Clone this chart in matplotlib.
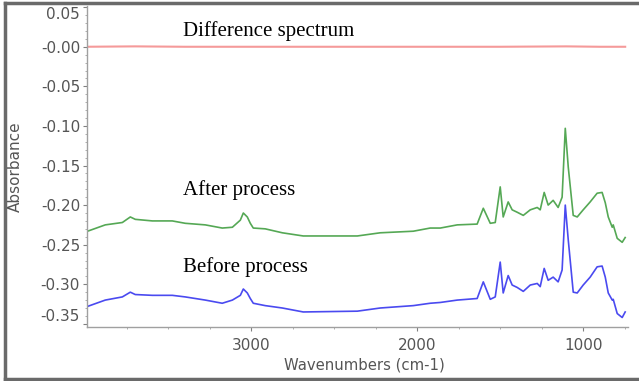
import matplotlib
matplotlib.use("Agg")
import matplotlib.pyplot as plt
from matplotlib.ticker import FixedLocator, MultipleLocator
from matplotlib.lines import Line2D

# Wavenumbers (cm-1)
wavenumbers = [4000, 3880, 3777, 3729, 3699, 3596, 3476, 3398, 3277, 3175, 3114,
               3066, 3048, 3024, 3006, 2988, 2916, 2813, 2687, 2361, 2223, 2024,
               1922, 1861, 1759, 1639, 1602, 1560, 1530, 1500, 1482, 1452, 1428,
               1398, 1361, 1319, 1277, 1259, 1235, 1211, 1181, 1151, 1127, 1108,
               1090, 1060, 1036, 1000, 958, 916, 886, 867, 849, 825, 819, 795,
               765, 747]

after_process = [-0.234, -0.225, -0.222, -0.215, -0.218, -0.220, -0.220, -0.223,
                 -0.225, -0.229, -0.228, -0.219, -0.210, -0.215, -0.223, -0.229,
                 -0.230, -0.235, -0.239, -0.239, -0.235, -0.233, -0.229, -0.229,
                 -0.225, -0.224, -0.204, -0.223, -0.222, -0.177, -0.215, -0.196,
                 -0.206, -0.209, -0.213, -0.206, -0.203, -0.206, -0.184, -0.200,
                 -0.194, -0.203, -0.190, -0.103, -0.152, -0.213, -0.215, -0.206,
                 -0.196, -0.185, -0.184, -0.197, -0.215, -0.228, -0.225, -0.242,
                 -0.247, -0.241]

before_process = [-0.329, -0.320, -0.316, -0.310, -0.313, -0.314, -0.314, -0.316,
                  -0.320, -0.324, -0.320, -0.314, -0.306, -0.311, -0.318, -0.324,
                  -0.327, -0.330, -0.335, -0.334, -0.330, -0.327, -0.324, -0.323,
                  -0.320, -0.318, -0.297, -0.319, -0.316, -0.272, -0.311, -0.289,
                  -0.301, -0.304, -0.309, -0.301, -0.299, -0.303, -0.280, -0.295,
                  -0.291, -0.297, -0.282, -0.200, -0.244, -0.310, -0.311, -0.301,
                  -0.291, -0.278, -0.277, -0.291, -0.311, -0.320, -0.319, -0.337,
                  -0.342, -0.335]

diff_wavenumbers = [4000, 3700, 3400, 3000, 2500, 2000, 1500, 1100, 900, 747]
difference = [0.000, 0.0005, 0.000, 0.000, 0.000, 0.000, 0.000, 0.0005, 0.000, 0.000]

y_ticks = [0.05, 0.0, -0.05, -0.10, -0.15, -0.20, -0.25, -0.30, -0.35]
y_tick_labels = ["0.05", "-0.00", "-0.05", "-0.10", "-0.15", "-0.20", "-0.25", "-0.30", "-0.35"]
x_ticks = [3000, 2000, 1000]
x_tick_labels = ["3000", "2000", "1000"]

W, H = 639, 381
fig = plt.figure(figsize=(W / 100, H / 100), dpi=100)
fig.patch.set_facecolor("white")
ax = fig.add_axes([87 / W, 1 - 327 / H, (628 - 87) / W, (327 - 6) / H])

ax.plot(diff_wavenumbers, difference, color="#f59a9a", lw=1.5)
ax.plot(wavenumbers, after_process, color="#55a855", lw=1.2)
ax.plot(wavenumbers, before_process, color="#4a4af0", lw=1.2)

ax.set_xlim(3990, 730)
ax.set_ylim(-0.354, 0.0515)

for s in ["top", "right"]:
    ax.spines[s].set_visible(False)
for s in ["left", "bottom"]:
    ax.spines[s].set_color("#a0a0a0")
    ax.spines[s].set_linewidth(1.0)

ax.yaxis.set_major_locator(FixedLocator(y_ticks))
ax.set_yticklabels(y_tick_labels)
ax.xaxis.set_major_locator(FixedLocator(x_ticks))
ax.set_xticklabels(x_tick_labels)
ax.yaxis.set_minor_locator(MultipleLocator(0.01))
ax.xaxis.set_minor_locator(MultipleLocator(250))

ax.tick_params(axis="both", which="major", direction="out", length=3,
               color="#808080", labelcolor="#555555", labelsize=11)
ax.tick_params(axis="both", which="minor", direction="out", length=1.5,
               color="#a0a0a0")
ax.tick_params(axis="y", pad=2)
ax.tick_params(axis="x", pad=5)

ticks = ax.yaxis.get_major_ticks()
ticks[0].label1.set_verticalalignment("top")
ticks[-1].label1.set_verticalalignment("bottom")

for lab in ax.get_xticklabels() + ax.get_yticklabels():
    lab.set_fontfamily("DejaVu Sans")

fig.text(364 / W, 1 - 365 / H, "Wavenumbers (cm-1)", ha="center", va="center",
         fontsize=10.7, color="#555555", family="DejaVu Sans")
fig.text(15 / W, 1 - 167 / H, "Absorbance", ha="center", va="center",
         rotation=90, fontsize=11, color="#555555", family="DejaVu Sans")

serif = ["Liberation Serif", "DejaVu Serif"]
ax.text(3410, 0.014, "Difference spectrum", fontsize=15, family=serif,
        va="baseline", ha="left", color="black")
ax.text(3410, -0.187, "After process", fontsize=15, family=serif,
        va="baseline", ha="left", color="black")
ax.text(3410, -0.284, "Before process", fontsize=15, family=serif,
        va="baseline", ha="left", color="black")

# figure frame (left, top, bottom)
frame_c = "#6a6a6a"
fig.add_artist(Line2D([5 / W, 5 / W], [1 - 379 / H, 1 - 3 / H], color=frame_c, lw=2.5,
                      transform=fig.transFigure))
fig.add_artist(Line2D([5 / W, 1], [1 - 3 / H, 1 - 3 / H], color=frame_c, lw=2.5,
                      transform=fig.transFigure))
fig.add_artist(Line2D([5 / W, 1], [1 - 379 / H, 1 - 379 / H], color=frame_c, lw=2.5,
                      transform=fig.transFigure))

fig.savefig("out.png", dpi=100)
